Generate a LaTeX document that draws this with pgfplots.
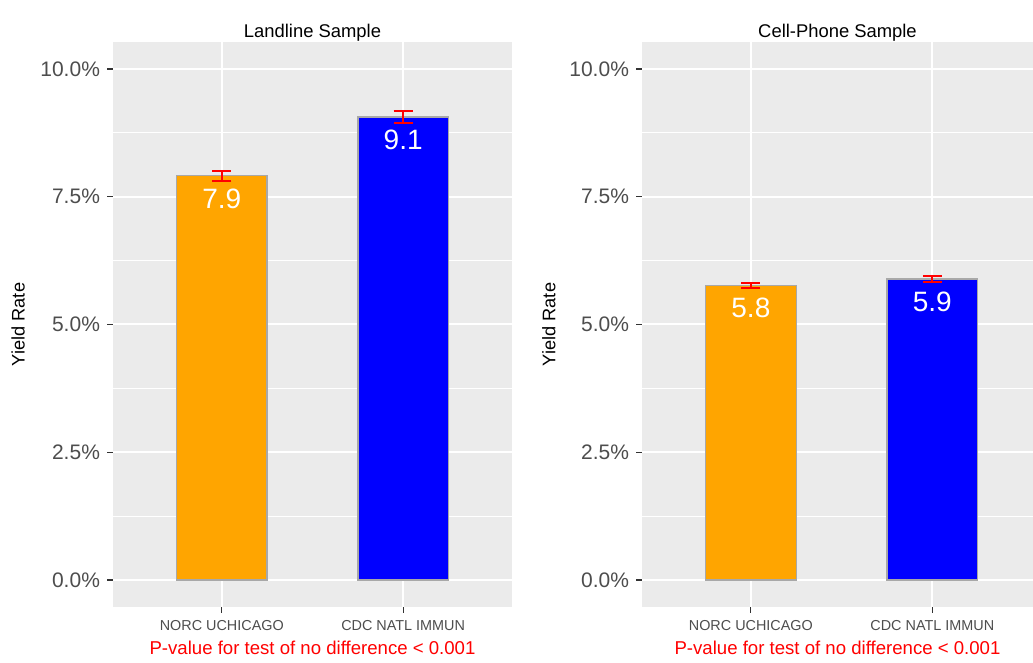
\documentclass[border=0pt]{standalone}
\usepackage{pgfplots}
\pgfplotsset{compat=1.18}
\usepackage{fontspec}
\setmainfont{Liberation Sans}
\definecolor{ggbg}{HTML}{EBEBEB}
\definecolor{ggtext}{HTML}{4D4D4D}
\definecolor{ggtick}{HTML}{333333}
\definecolor{barorange}{HTML}{FFA500}
\definecolor{barblue}{HTML}{0000FF}
\definecolor{barline}{HTML}{A8A8A8}
\definecolor{pred}{HTML}{FF0000}
\pgfplotsset{
  ggpanel/.style={
    scale only axis,
    height=282.5pt,
    ymin=-0.528, ymax=10.528,
    xmin=0.4,
    ytick={0,2.5,5,7.5,10},
    yticklabels={0.0\%,2.5\%,5.0\%,7.5\%,10.0\%},
    minor ytick={1.25,3.75,6.25,8.75},
    xtick={1,2},
    xticklabels={NORC UCHICAGO,CDC NATL IMMUN},
    grid=both,
    major grid style={white, line width=1pt},
    minor grid style={white, line width=0.5pt},
    axis background/.style={fill=ggbg},
    axis line style={draw=none},
    tick align=outside,
    major tick length=3pt,
    minor tick length=0pt,
    tick style={color=ggtick, line width=0.6pt},
    xtick pos=bottom, ytick pos=left,
    yticklabel style={font=\fontsize{10.5}{12}\selectfont, text=ggtext},
    xticklabel style={font=\fontsize{7.2}{8}\selectfont, text=ggtext},
    every axis title/.style={at={(axis description cs:0.5,1.008)}, anchor=base, font=\fontsize{9.2}{11}\selectfont},
    every axis x label/.style={at={(axis description cs:0.5,-0.0837)}, anchor=base, font=\fontsize{9.3}{11}\selectfont, text=pred},
    every axis y label/.style={at={(axis description cs:-0.238,0.5)}, rotate=90, anchor=center, font=\fontsize{9.1}{11}\selectfont},
    ylabel={Yield Rate},
    xlabel={P-value for test of no difference < 0.001},
  },
  ggbar/.style={
    ybar, bar width=0.5, bar shift=0pt,
    draw=barline, line width=0.7pt,
    point meta=explicit symbolic,
    nodes near coords,
    nodes near coords align={below},
    every node near coord/.append style={text=white, font=\fontsize{14}{16}\selectfont, inner sep=0pt, anchor=north, yshift=-6pt},
    error bars/y dir=both, error bars/y explicit,
    error bars/error bar style={pred, line width=0.9pt},
    error bars/error mark=|,
    error bars/error mark options={pred, line width=0.9pt, mark size=4.75pt},
  },
}
\begin{document}
\begin{tikzpicture}
\useasboundingbox (0,0) rectangle (516.5pt,331.5pt);
\begin{axis}[ggpanel, at={(56.5pt,28pt)}, anchor=south west, width=199.5pt, xmax=2.6,
  title={Landline Sample}]
\addplot[ggbar, fill=barorange] table[x=x, y=y, y error=e, meta=lab] {
x y e lab
1 7.91 0.10 7.9
};
\addplot[ggbar, fill=barblue] table[x=x, y=y, y error=e, meta=lab] {
x y e lab
2 9.06 0.11 9.1
};
\end{axis}
\begin{axis}[ggpanel, at={(321pt,28pt)}, anchor=south west, width=195.5pt, xmax=2.555,
  title={Cell-Phone Sample}]
\addplot[ggbar, fill=barorange] table[x=x, y=y, y error=e, meta=lab] {
x y e lab
1 5.76 0.045 5.8
};
\addplot[ggbar, fill=barblue] table[x=x, y=y, y error=e, meta=lab] {
x y e lab
2 5.89 0.055 5.9
};
\end{axis}
\end{tikzpicture}
\end{document}
